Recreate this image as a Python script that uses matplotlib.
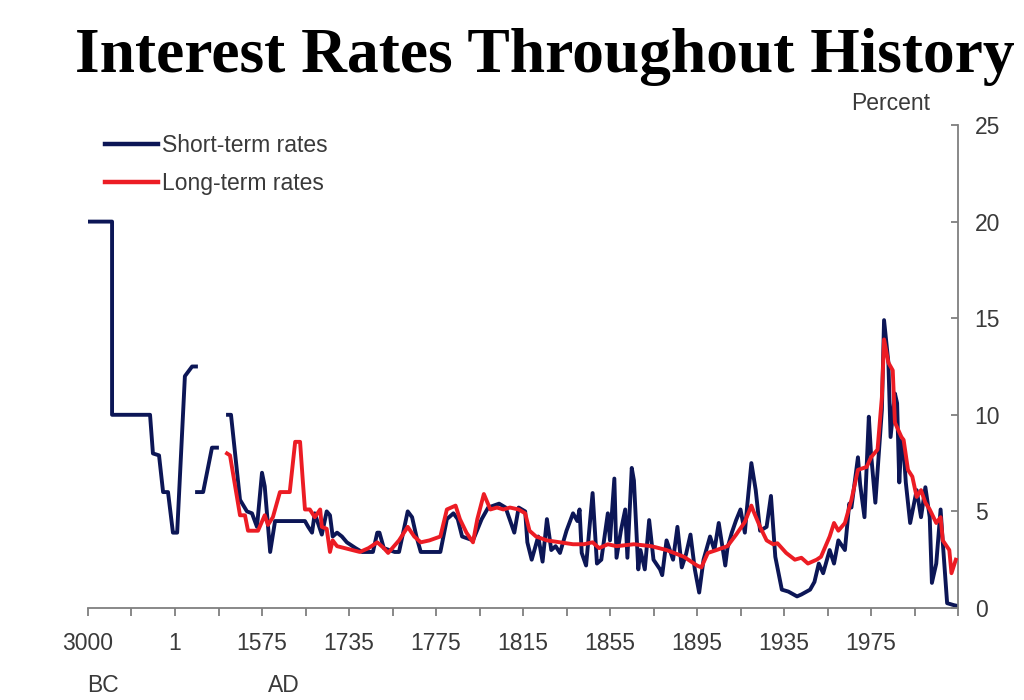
import numpy as np
import matplotlib
matplotlib.use("Agg")
import matplotlib.pyplot as plt

# ---------------- data ----------------
short_years = [-3000, -2170, -2170, -860, -760, -550, -410, -240, -70, 40, 180, 310, 380,
               np.nan,
               400, 510, 670, 760,
               np.nan,
               960, 1014, 1177, 1303, 1394, 1484, 1575, 1580, 1590, 1599, 1654, 1660, 1667,
               1672, 1685, 1694, 1700, 1705, 1713, 1722, 1731, 1738, 1741, 1746, 1748, 1749,
               1751, 1756, 1758, 1762, 1764, 1766, 1768, 1777, 1780, 1783, 1785, 1787, 1792,
               1796, 1799, 1804, 1807, 1811, 1813, 1816, 1817, 1819, 1822, 1824, 1826, 1828,
               1830, 1832, 1835, 1838, 1840, 1841, 1842, 1844, 1847, 1849, 1851, 1854, 1855,
               1857, 1858, 1860, 1862, 1863, 1865, 1866, 1868, 1869, 1871, 1873, 1875, 1878,
               1879, 1881, 1884, 1886, 1888, 1890, 1892, 1894, 1896, 1898, 1901, 1903, 1905,
               1908, 1909, 1911, 1913, 1915, 1917, 1918, 1920, 1922, 1924, 1927, 1929, 1931,
               1934, 1937, 1941, 1943, 1947, 1949, 1951, 1953, 1956, 1958, 1960, 1963, 1965,
               1966, 1969, 1970, 1972, 1974, 1975, 1977, 1980, 1981, 1983, 1984, 1986, 1987,
               1988, 1989, 1990, 1991, 1993, 1996, 1998, 2000, 2002, 2003, 2005, 2007, 2008,
               2010, 2013, 2015]
short_rates = [20, 20, 10, 10, 8.0, 7.9, 6.0, 6.0, 3.9, 3.9, 12.0, 12.5, 12.5,
               np.nan,
               6.0, 6.0, 8.3, 8.3,
               np.nan,
               10.0, 10.0, 5.6, 5.0, 4.9, 4.2, 7.0, 6.3, 2.9, 4.5, 4.5, 4.2, 3.9,
               4.9, 3.8, 5.0, 4.8, 3.7, 3.9, 3.7, 3.4, 3.1, 2.9, 2.9, 3.9, 3.9,
               3.1, 2.9, 2.9, 5.0, 4.7, 3.7, 2.9, 2.9, 4.6, 4.9, 4.6, 3.7, 3.5,
               4.6, 5.2, 5.4, 5.2, 3.9, 5.2, 5.0, 3.4, 2.5, 3.7, 2.4, 4.6, 3.0,
               3.2, 2.85, 4.0, 4.9, 4.5, 5.1, 2.85, 2.2, 5.95, 2.3, 2.5, 4.9, 3.5,
               6.7, 2.6, 4.0, 5.1, 2.6, 7.25, 6.6, 2.0, 3.0, 2.0, 4.55, 2.5, 2.0,
               1.7, 3.5, 2.5, 4.2, 2.1, 2.8, 3.8, 2.0, 0.8, 2.5, 3.7, 3.0, 4.4,
               2.2, 3.1, 3.9, 4.55, 5.1, 3.9, 5.2, 7.5, 6.1, 4.0, 4.2, 5.8, 2.65,
               0.95, 0.85, 0.6, 0.7, 0.95, 1.35, 2.3, 1.8, 3.0, 2.3, 3.5, 3.0, 5.4,
               5.2, 7.8, 6.4, 4.7, 9.9, 8.0, 5.45, 10.25, 14.9, 12.7, 8.85, 11.1, 10.6,
               6.5, 8.7, 8.2, 6.5, 4.4, 6.1, 4.7, 6.25, 4.7, 1.3, 2.3, 5.1, 3.4,
               0.25, 0.15, 0.1]

long_years = [942, 996, 1177, 1267, 1322, 1503, 1580, 1586, 1595, 1608, 1626, 1636, 1645,
              1650, 1654, 1663, 1672, 1682, 1685, 1694, 1700, 1705, 1713, 1727, 1740, 1744,
              1748, 1751, 1753, 1758, 1762, 1765, 1768, 1772, 1777, 1780, 1784, 1786, 1789,
              1792, 1794, 1797, 1800, 1803, 1806, 1809, 1813, 1816, 1818, 1821, 1826, 1832,
              1838, 1843, 1847, 1850, 1854, 1858, 1866, 1874, 1881, 1889, 1895, 1897, 1900,
              1904, 1909, 1913, 1917, 1920, 1921, 1924, 1927, 1930, 1932, 1936, 1940, 1943,
              1946, 1950, 1952, 1956, 1958, 1960, 1963, 1966, 1969, 1973, 1975, 1978, 1980,
              1981, 1983, 1985, 1986, 1989, 1990, 1992, 1994, 1996, 1998, 2000, 2002, 2005,
              2007, 2008, 2011, 2012, 2014]
long_rates = [8.0, 7.9, 4.8, 4.8, 4.0, 4.0, 4.8, 4.3, 4.7, 6.0, 6.0, 8.6, 8.6,
              6.6, 5.1, 5.1, 4.7, 5.1, 4.2, 4.1, 2.9, 3.5, 3.2, 3.1, 2.9, 3.1,
              3.4, 3.1, 2.85, 3.5, 4.2, 3.7, 3.4, 3.5, 3.7, 5.1, 5.3, 4.6, 3.9,
              3.4, 4.6, 5.9, 5.1, 5.2, 5.1, 5.2, 5.1, 4.9, 4.0, 3.7, 3.5, 3.4,
              3.3, 3.3, 3.4, 3.1, 3.3, 3.2, 3.3, 3.2, 3.0, 2.65, 2.2, 2.1, 2.85,
              3.0, 3.2, 3.8, 4.45, 5.3, 5.0, 4.2, 3.5, 3.3, 3.35, 2.85, 2.5, 2.6,
              2.3, 2.5, 2.65, 3.7, 4.4, 4.0, 4.4, 5.6, 7.15, 7.3, 7.8, 8.2, 10.9,
              13.9, 12.7, 12.3, 9.6, 8.85, 8.7, 7.15, 6.8, 5.75, 6.1, 5.45, 5.1, 4.4,
              4.7, 3.5, 3.0, 1.8, 2.5]

# axis breaks: the year axis is stretched differently in each era
break_years = [-3000, 1, 1575, 1735, 2015]
break_units = [0, 2, 4, 6, 20]

major_years = [-3000, 1, 1575, 1735, 1775, 1815, 1855, 1895, 1935, 1975]
major_labels = ["3000", "1", "1575", "1735", "1775", "1815", "1855", "1895", "1935", "1975"]
minor_years = [-1500, 788, 1655, 1755, 1795, 1835, 1875, 1915, 1955, 1995, 2015]
y_ticks = [0, 5, 10, 15, 20, 25]

NAVY = "#0c1656"
RED = "#ec1c24"
GREY = "#7f7f7f"
TXT = "#3a3a3a"
FS = 16.5


def fwd(x):
    x = np.asarray(x, dtype=float)
    return np.where(np.isnan(x), np.nan, np.interp(x, break_years, break_units))


def inv(p):
    p = np.asarray(p, dtype=float)
    return np.where(np.isnan(p), np.nan, np.interp(p, break_units, break_years))


plt.rcParams["font.family"] = ["Liberation Sans", "DejaVu Sans"]

fig = plt.figure(figsize=(10.24, 7.0), dpi=100)
ax = fig.add_axes([88 / 1024, 1 - 608 / 700, 870 / 1024, 483 / 700])
ax.set_xscale("function", functions=(fwd, inv))

ax.plot(short_years, short_rates, color=NAVY, lw=2.8, solid_joinstyle="round",
        label="Short-term rates", zorder=2)
ax.plot(long_years, long_rates, color=RED, lw=2.8, solid_joinstyle="round",
        label="Long-term rates", zorder=3)

ax.set_xlim(-3000, 2015)
ax.set_ylim(0, 25)

for s in ["top", "left"]:
    ax.spines[s].set_visible(False)
for s in ["bottom", "right"]:
    ax.spines[s].set_color(GREY)
    ax.spines[s].set_linewidth(1.3)

ax.set_xticks(major_years)
ax.set_xticklabels(major_labels)
ax.set_xticks(minor_years, minor=True)
ax.tick_params(axis="x", which="both", direction="out", length=6, width=1.3,
               color=GREY, labelsize=FS, labelcolor=TXT, pad=11)

ax.yaxis.tick_right()
ax.set_yticks(y_ticks)
ax.tick_params(axis="y", which="both", direction="in", length=5, width=1.3,
               color=GREY, labelsize=FS, labelcolor=TXT, pad=12)

ax.text(0.017, -0.16, "BC", transform=ax.transAxes, ha="center", va="center",
        fontsize=FS, color=TXT)
ax.text(0.225, -0.16, "AD", transform=ax.transAxes, ha="center", va="center",
        fontsize=FS, color=TXT)
ax.text(0.922, 1.045, "Percent", transform=ax.transAxes, ha="center", va="center",
        fontsize=FS, color=TXT)

leg = ax.legend(loc="upper left", bbox_to_anchor=(0.0195, 0.982), frameon=False,
                fontsize=FS, handlelength=2.3, handletextpad=0.17, labelspacing=0.65,
                borderpad=0, borderaxespad=0)
for t in leg.get_texts():
    t.set_color(TXT)
for h in leg.get_lines():
    h.set_linewidth(3.2)

fig.text(0.532, 0.919, "Interest Rates Throughout History", ha="center", va="center",
         fontsize=45.7, fontweight="bold", family=["Liberation Serif", "DejaVu Serif"])

fig.savefig("out.png", dpi=100, facecolor="white")
